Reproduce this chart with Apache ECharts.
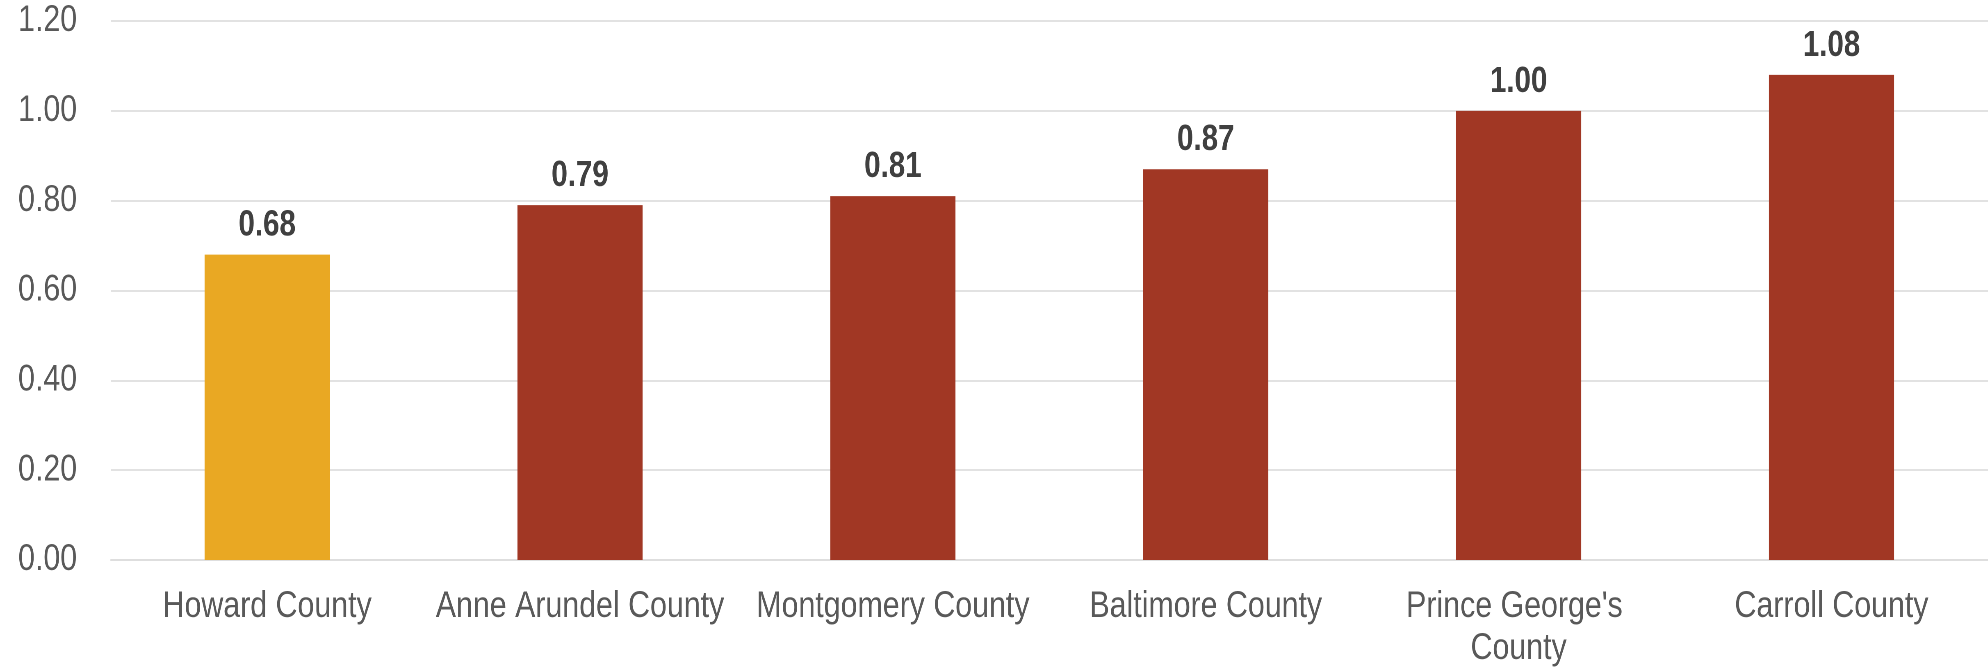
<!DOCTYPE html>
<html>
<head>
<meta charset="utf-8">
<script src="https://cdn.jsdelivr.net/npm/echarts@6/dist/echarts.min.js"></script>
<style>
  html, body { margin: 0; padding: 0; background: #ffffff; overflow: hidden; }
  #frame { width: 1988px; height: 670px; overflow: hidden; }
  /* The chart is laid out wider and squeezed horizontally so its text reads as a narrow face */
  #chart { width: 2424px; height: 670px; transform: scaleX(0.8201); transform-origin: 0 0; }
</style>
</head>
<body>
<div id="frame"><div id="chart"></div></div>
<script>
// County names along the category axis
const counties = [
  "Howard County",
  "Anne Arundel County",
  "Montgomery County",
  "Baltimore County",
  "Prince George's County",
  "Carroll County"
];

// Value for each county
const values = [0.68, 0.79, 0.81, 0.87, 1.00, 1.08];

// County shown in the highlight colour
const highlighted = "Howard County";

// Value axis range
const yMin = 0;
const yMax = 1.2;
const yStep = 0.2;

const FONT = "'Liberation Sans', Arial, sans-serif";
const HIGHLIGHT_COLOR = "#E9A823";
const BASE_COLOR = "#A13724";

const chart = echarts.init(document.getElementById("chart"), null, { renderer: "canvas", devicePixelRatio: 2 });

chart.setOption({
  animation: false,
  backgroundColor: "#ffffff",
  grid: { left: 135, right: 0, top: 21, bottom: 109, containLabel: false },
  xAxis: {
    type: "category",
    data: counties,
    axisLine: { show: true, lineStyle: { color: "#d9d9d9", width: 1.5 } },
    axisTick: { show: false },
    axisLabel: {
      interval: 0,
      margin: 26,
      color: "#595959",
      fontFamily: FONT,
      fontSize: 37,
      lineHeight: 42,
      width: 365,
      overflow: "break"
    }
  },
  yAxis: {
    type: "value",
    min: yMin,
    max: yMax,
    interval: yStep,
    axisLine: { show: false },
    axisTick: { show: false },
    splitLine: { show: true, lineStyle: { color: "#d9d9d9", width: 1.5 } },
    axisLabel: {
      margin: 41,
      color: "#595959",
      fontFamily: FONT,
      fontSize: 37,
      formatter: v => v.toFixed(2)
    }
  },
  series: [{
    type: "bar",
    barWidth: "40%",
    data: counties.map((c, i) => ({
      value: values[i],
      itemStyle: { color: c === highlighted ? HIGHLIGHT_COLOR : BASE_COLOR }
    })),
    label: {
      show: true,
      position: "top",
      distance: 11,
      color: "#404040",
      fontFamily: FONT,
      fontWeight: "bold",
      fontSize: 36,
      formatter: p => p.value.toFixed(2)
    }
  }]
});
</script>
</body>
</html>
